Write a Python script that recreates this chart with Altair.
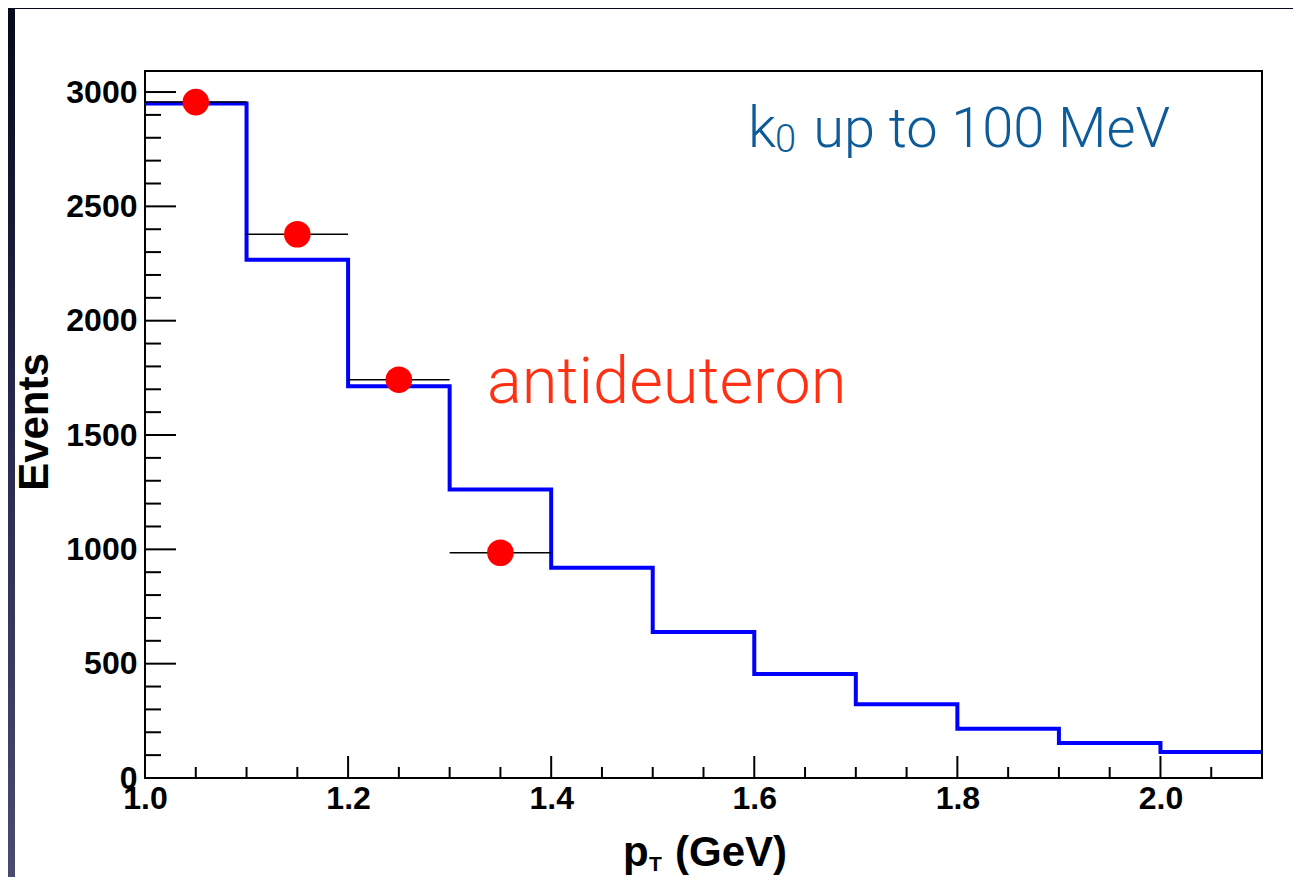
import altair as alt
import pandas as pd

# ---- data ----
bin_edges = [1.0, 1.1, 1.2, 1.3, 1.4, 1.5, 1.6, 1.7, 1.8, 1.9, 2.0, 2.1]
hist_counts = [2950, 2267, 1713, 1262, 919, 639, 455, 323, 215, 153, 114]

pt_x = [1.05, 1.15, 1.25, 1.35]
pt_y = [2956, 2378, 1742, 985]
pt_xerr = [0.05, 0.05, 0.05, 0.05]

x_tick_labels = [1.0, 1.2, 1.4, 1.6, 1.8, 2.0]
x_minor = [1.05, 1.1, 1.15, 1.25, 1.3, 1.35, 1.45, 1.5, 1.55, 1.65, 1.7, 1.75,
           1.85, 1.9, 1.95, 2.05]
y_tick_labels = [0, 500, 1000, 1500, 2000, 2500, 3000]
y_minor = [v for v in range(100, 3100, 100) if v % 500 != 0]

X_DOMAIN = [1.0, 2.1]
Y_DOMAIN = [0, 3092]

W, H = 1117, 707

hist_df = pd.DataFrame({"x": bin_edges, "y": hist_counts + [hist_counts[-1]]})
pts_df = pd.DataFrame({
    "x": pt_x, "y": pt_y,
    "xlo": [a - e for a, e in zip(pt_x, pt_xerr)],
    "xhi": [a + e for a, e in zip(pt_x, pt_xerr)],
})

xs = alt.Scale(domain=X_DOMAIN, nice=False, zero=False)
ys = alt.Scale(domain=Y_DOMAIN, nice=False, zero=False)

AXF = "Liberation Sans"

base_x = alt.X("x:Q", scale=xs, axis=alt.Axis(
    values=x_tick_labels, format=".1f", title=None, ticks=False, tickSize=0,
    domain=False, grid=False, labelFont=AXF, labelFontWeight="bold",
    labelFontSize=32, labelColor="black", labelPadding=5, labelFlush=False,
    labelOverlap=False))
base_y = alt.Y("y:Q", scale=ys, axis=alt.Axis(
    values=y_tick_labels, format="d", title=None, ticks=False, tickSize=0,
    domain=False, grid=False, labelFont=AXF, labelFontWeight="bold",
    labelFontSize=32, labelColor="black", labelPadding=8, labelFlush=False,
    labelOverlap=False))

# dark slide frame strip on the left
grad = alt.LinearGradient(
    gradient="linear",
    stops=[alt.GradientStop(color="#08081c", offset=0),
           alt.GradientStop(color="#2a2a50", offset=0.5),
           alt.GradientStop(color="#4a4a72", offset=1)],
    x1=0, x2=0, y1=0, y2=1)
strip_left = alt.Chart(pd.DataFrame({"a": [0]})).mark_rect(color=grad).encode(
    x=alt.value(-137), x2=alt.value(-130), y=alt.value(-63), y2=alt.value(806))
strip_top = alt.Chart(pd.DataFrame({"a": [0]})).mark_rect(color="#08081c").encode(
    x=alt.value(-137), x2=alt.value(1150), y=alt.value(-63), y2=alt.value(-62))

hist = alt.Chart(hist_df).mark_line(
    interpolate="step-after", color="#0000ff", strokeWidth=4).encode(
    x=base_x, y=base_y)

errs = alt.Chart(pts_df).mark_rule(color="black", strokeWidth=1.5).encode(
    x=alt.X("xlo:Q", scale=xs), x2="xhi:Q", y=alt.Y("y:Q", scale=ys))

points = alt.Chart(pts_df).mark_circle(color="#ff0000", opacity=1, size=707).encode(
    x=alt.X("x:Q", scale=xs), y=alt.Y("y:Q", scale=ys))

ytick_major = alt.Chart(pd.DataFrame({"v": y_tick_labels})).mark_rule(
    color="black", strokeWidth=2).encode(
    y=alt.Y("v:Q", scale=ys), x=alt.value(0), x2=alt.value(31))
ytick_minor = alt.Chart(pd.DataFrame({"v": y_minor})).mark_rule(
    color="black", strokeWidth=2).encode(
    y=alt.Y("v:Q", scale=ys), x=alt.value(0), x2=alt.value(16))
xtick_major = alt.Chart(pd.DataFrame({"v": x_tick_labels})).mark_rule(
    color="black", strokeWidth=2).encode(
    x=alt.X("v:Q", scale=xs), y=alt.value(H), y2=alt.value(H - 22))
xtick_minor = alt.Chart(pd.DataFrame({"v": x_minor})).mark_rule(
    color="black", strokeWidth=2).encode(
    x=alt.X("v:Q", scale=xs), y=alt.value(H), y2=alt.value(H - 11))

one = pd.DataFrame({"a": [0]})

def txt(s, x, y, size, color="black", font=AXF, weight="bold", align="left",
        baseline="alphabetic", angle=0):
    return alt.Chart(one).mark_text(
        text=s, font=font, fontWeight=weight, fontSize=size, color=color,
        align=align, baseline=baseline, angle=angle).encode(
        x=alt.value(x), y=alt.value(y))

ytitle = txt("Events", -97, 351, 42, align="center", angle=270)
xt_p = txt("p", 478, 795, 42)
xt_T = txt("T", 504, 800, 21)
xt_rest = txt("(GeV)", 530, 795, 42)

BLUE = "#0d5b98"
RED = "#ff3014"
LF = "Roboto"
k_main = txt("k", 603, 76, 57, color=BLUE, font=LF, weight=300)
k_sub = txt("0", 630, 81, 38, color=BLUE, font=LF, weight=300)
k_rest = txt("up to 100 MeV", 1025, 76, 56, color=BLUE, font=LF, weight=300,
             align="right")
anti = txt("antideuteron", 342, 332, 65, color=RED, font=LF, weight=300)

chart = alt.layer(
    strip_left, strip_top, hist, errs, points,
    ytick_major, ytick_minor, xtick_major, xtick_minor,
    ytitle, xt_p, xt_T, xt_rest, k_main, k_sub, k_rest, anti,
).properties(
    width=W, height=H,
    autosize=alt.AutoSizeParams(type="none"),
    padding={"left": 137, "top": 63, "right": 31, "bottom": 99},
    background="white",
).configure_view(
    stroke="black", strokeWidth=2, fill=None
)

chart.save("out.html", embed_options={"renderer": "svg", "actions": False})
